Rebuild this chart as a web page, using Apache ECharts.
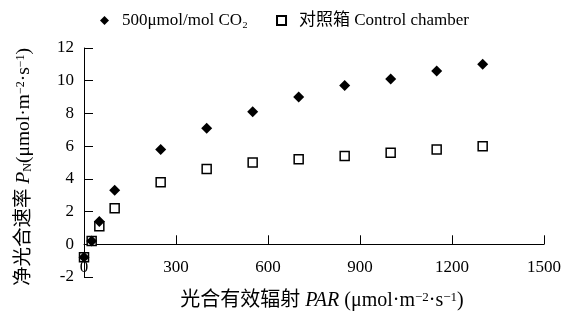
<!DOCTYPE html>
<html>
<head>
<meta charset="utf-8">
<script src="https://cdn.jsdelivr.net/npm/echarts@6/dist/echarts.min.js"></script>
<style>
  html, body { margin: 0; padding: 0; background: #fff; }
  #main { width: 573px; height: 313px; }
</style>
</head>
<body>
<div id="main"></div>
<script>
// 光合有效辐射 PAR
const parValues = [0, 25, 50, 100, 250, 400, 550, 700, 850, 1000, 1150, 1300]
// 500μmol/mol CO2 净光合速率
const co2Values = [-0.8, 0.2, 1.4, 3.3, 5.8, 7.1, 8.1, 9.0, 9.7, 10.1, 10.6, 11.0]
// 对照箱
const controlValues = [-0.8, 0.2, 1.1, 2.2, 3.8, 4.6, 5.0, 5.2, 5.4, 5.6, 5.8, 6.0]

const seriesNames = ['500μmol/mol CO₂', '对照箱 Control chamber']

const font = '"Liberation Serif", "Noto Sans CJK SC", serif'

const myChart = echarts.init(document.querySelector('#main'))
const option = {
  animation: false,
  textStyle: { fontFamily: font, color: '#000' },
  legend: {
    top: 7,
    left: 95,
    itemGap: 28,
    itemWidth: 9,
    itemHeight: 9,
    textStyle: { fontFamily: font, fontSize: 17, color: '#000', padding: [0, 0, 0, 8] },
    data: seriesNames
  },
  grid: {
    left: 84,
    right: 29,
    top: 48,
    bottom: 36,
    outerBoundsMode: 'none'
  },
  xAxis: {
    type: 'value',
    min: 0,
    max: 1500,
    interval: 300,
    name: '{t|光合有效辐射 }{i|PAR}{t| (μmol·m}{sup|−2}{t|·s}{sup|−1}{t|)}',
    nameLocation: 'middle',
    nameGap: 14,
    nameTextStyle: {
      padding: [0, 0, 0, 16],
      rich: {
        t: { fontFamily: font, fontSize: 20, color: '#000' },
        i: { fontFamily: font, fontSize: 20, fontStyle: 'italic', color: '#000' },
        sup: { fontFamily: font, fontSize: 13, color: '#000', verticalAlign: 'top', lineHeight: 14 }
      }
    },
    axisLine: { onZero: true, lineStyle: { color: '#000', width: 1 } },
    axisTick: { inside: true, length: 9, lineStyle: { color: '#000' } },
    axisLabel: { fontFamily: font, fontSize: 17, color: '#000', margin: -18, formatter: v => String(v) },
    splitLine: { show: false }
  },
  yAxis: {
    type: 'value',
    min: -2,
    max: 12,
    interval: 2,
    name: '{t|净光合速率 }{i|P}{sub|N}{t|(μmol·m}{sup|−2}{t|·s}{sup|−1}{t|)}',
    nameLocation: 'middle',
    nameGap: 50,
    nameTextStyle: {
      padding: [0, 9, 0, 0],
      rich: {
        t: { fontFamily: font, fontSize: 19.5, color: '#000' },
        i: { fontFamily: font, fontSize: 19.5, fontStyle: 'italic', color: '#000' },
        sub: { fontFamily: font, fontSize: 12, color: '#000', verticalAlign: 'bottom' },
        sup: { fontFamily: font, fontSize: 12, color: '#000', verticalAlign: 'top' }
      }
    },
    axisLine: { onZero: false, lineStyle: { color: '#000', width: 1 } },
    axisTick: { inside: true, length: 9, lineStyle: { color: '#000' } },
    axisLabel: { fontFamily: font, fontSize: 17, color: '#000', margin: 10 },
    splitLine: { show: false }
  },
  series: [
    {
      name: seriesNames[1],
      type: 'scatter',
      symbol: 'rect',
      symbolSize: 9,
      itemStyle: { color: '#fff', borderColor: '#000', borderWidth: 1.5, opacity: 1 },
      data: parValues.map((p, i) => [p, controlValues[i]])
    },
    {
      name: seriesNames[0],
      type: 'scatter',
      symbol: 'diamond',
      symbolSize: 11,
      itemStyle: { color: '#000', opacity: 1 },
      data: parValues.map((p, i) => [p, co2Values[i]])
    }
  ]
}
myChart.setOption(option)
</script>
</body>
</html>
